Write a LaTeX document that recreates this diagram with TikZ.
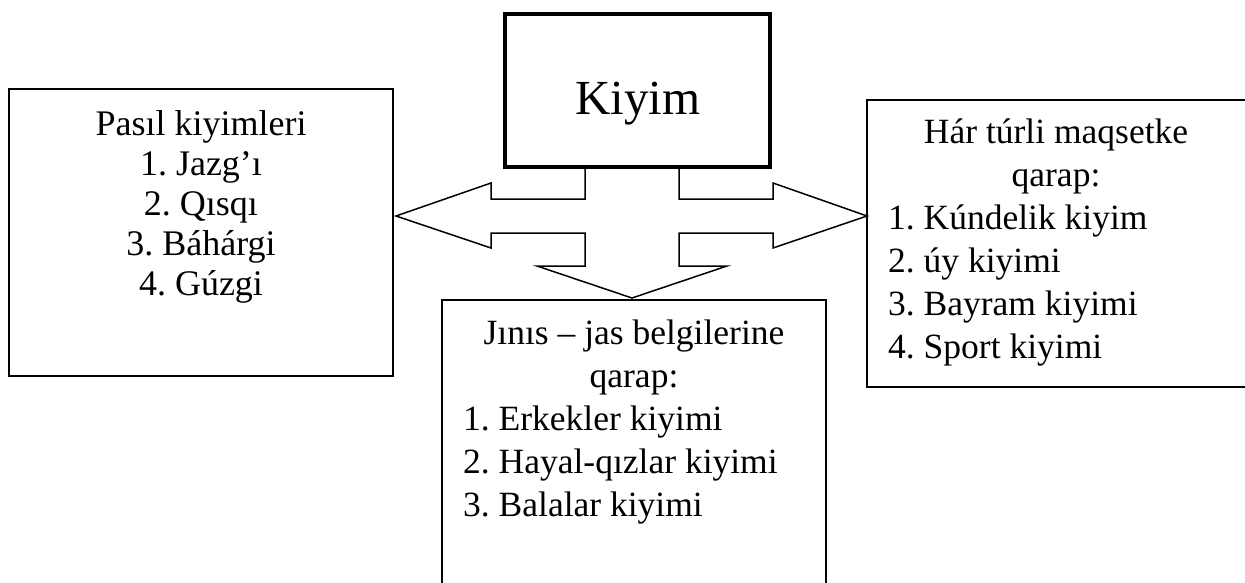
\documentclass[tikz,border=0pt]{standalone}
\usepackage{fontspec}
\setmainfont{Liberation Serif}
\frenchspacing

\begin{document}
\begin{tikzpicture}[x=1pt,y=-1pt]
\tikzstyle{frame}=[rectangle, draw=black, line width=2pt, inner sep=0pt]
\tikzstyle{hub}=[rectangle, draw=black, line width=3.5pt, inner sep=0pt, minimum width=265pt, minimum height=153pt]
\tikzstyle{txt}=[inner sep=0pt, font=\fontsize{36}{40}\selectfont]
\tikzstyle{txtw}=[inner sep=0pt, font=\fontsize{35.5}{43}\selectfont]
\tikzstyle{blockarrow}=[draw=black, line width=1.5pt, fill=white, line join=miter]
  \clip (0,0) rectangle (1245,583);
  % three way arrow
  \draw[blockarrow] (585,167) -- (585,199) -- (491,199) -- (491,183) -- (396,216)
    -- (491,248) -- (491,233) -- (585,233) -- (585,266) -- (537,266) -- (632,298)
    -- (727,266) -- (679,266) -- (679,233) -- (773,233) -- (773,248) -- (867,216)
    -- (773,183) -- (773,199) -- (679,199) -- (679,167);
  \node[hub] (kiyim) at (637.5,90.5) { };
  \node[inner sep=0pt, anchor=base, font=\fontsize{49}{60}\selectfont] (kiyimtxt) at (638,115) {Kiyim};
  \node[frame, minimum width=384pt, minimum height=287pt] (pasil) at (201,232.5) { };
  \node[frame, minimum width=383pt, minimum height=287pt] (maqset) at (1058.5,243.5) { };
  \node[frame, minimum width=384pt, minimum height=300pt] (jinis) at (634,450) { };
  % base anchor sits on the last line
  \node[txt, align=center, anchor=base] (pasiltxt) at (201,295)
    {Pasıl kiyimleri\\1. Jazg’ı\\2. Qısqı\\3. Báhárgi\\4. Gúzgi};
  \node[txtw, align=center, anchor=base] (maqsethead) at (1056,186) {Hár túrli maqsetke\\qarap:};
  \node[txtw, align=left, anchor=base west] (maqsetlist) at (888,358)
    {1. Kúndelik kiyim\\2. úy kiyimi\\3. Bayram kiyimi\\4. Sport kiyimi};
  \node[txtw, align=center, anchor=base] (jinishead) at (634,387) {Jınıs – jas belgilerine\\qarap:};
  \node[txtw, align=left, anchor=base west] (jinislist) at (463,516)
    {1. Erkekler kiyimi\\2. Hayal-qızlar kiyimi\\3. Balalar kiyimi};
\end{tikzpicture}
\end{document}
